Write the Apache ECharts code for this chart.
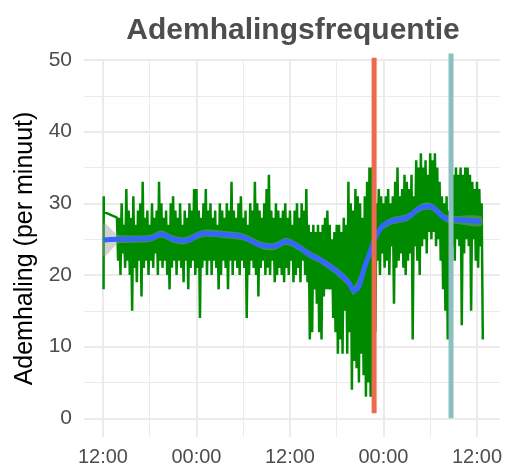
<!DOCTYPE html>
<html>
<head>
<meta charset="utf-8">
<script src="https://cdn.jsdelivr.net/npm/echarts@6/dist/echarts.min.js"></script>
<style>
  html, body { margin: 0; padding: 0; background: #fff; }
  #main { width: 505px; height: 467px; }
</style>
</head>
<body>
<div id="main"></div>
<script>
// tijd in uren vanaf dag 1 00:00
var xTicks = [12, 24, 36, 48, 60];
var xTickLabels = ['12:00', '00:00', '12:00', '00:00', '12:00'];
var xMinor = [18, 30, 42, 54];
var yTicks = [0, 10, 20, 30, 40, 50];
var yMinor = [5, 15, 25, 35, 45];

// eerste losse metingen
var startHours = [12.08, 12.1, 12.12];
var startValues = [18, 31, 28.8];

// daarna elke 0.3 uur een piek (hoog) en een dal (laag), vanaf 13.8 uur
var sampleStart = 13.8;
var sampleStep = 0.3;
var greenHigh = [
  28, 28, 30, 27, 32, 29, 28, 31, 27, 29,
  30, 33, 28, 29, 27, 30, 28, 29, 33, 30,
  28, 29, 27, 30, 31, 29, 28, 30, 27, 29,
  28, 30, 29, 32, 32, 29, 28, 30, 32, 29,
  30, 28, 29, 27, 30, 29, 28, 30, 29, 33,
  29, 28, 30, 31, 28, 29, 27, 30, 29, 33,
  30, 29, 28, 30, 32, 34, 29, 28, 30, 29,
  28, 29, 30, 28, 29, 27, 29, 30, 28, 30,
  29, 32, 27, 26, 27, 26, 27, 26, 27, 28,
  29, 27, 25, 26, 27, 27, 26, 28, 27, 33,
  30, 29, 32, 31, 30, 28, 31, 33, 35, 35,
  31, 30, 32, 31, 30, 31, 32, 30, 31, 33,
  35, 31, 32, 34, 33, 32, 34, 31, 36, 35,
  37, 35, 36, 34, 37, 36, 37, 35, 33, 31,
  30, 31, 29, 30, 34, 35, 34, 35, 34, 35,
  35, 34, 33, 32, 33, 32, 30
];
var greenLow = [
  22, 20, 23, 21, 22, 20, 15, 21, 19, 22,
  17, 21, 22, 20, 22, 21, 23, 20, 22, 21,
  22, 20, 18, 21, 22, 20, 22, 21, 19, 22,
  18, 21, 22, 20, 21, 14, 21, 22, 20, 22,
  20, 22, 21, 18, 20, 22, 21, 18, 22, 20,
  22, 21, 20, 22, 21, 14, 20, 22, 21, 20,
  17, 21, 22, 20, 21, 20, 22, 19, 20, 21,
  20, 19, 21, 20, 22, 19, 20, 21, 19, 22,
  20, 19, 11, 12, 18, 16, 12, 11, 17, 18,
  18, 18, 14, 12, 9, 11, 9, 15, 9, 12,
  4, 8, 7, 5, 9, 6, 3, 5, 3, 3,
  12, 22, 20, 23, 21, 22, 20, 24, 16, 21,
  22, 23, 21, 20, 22, 23, 11, 24, 22, 20,
  24, 25, 23, 26, 25, 26, 24, 25, 22, 18,
  15, 11, 20, 24, 22, 25, 24, 13, 23, 25,
  24, 15, 25, 22, 21, 24, 11
];

// gladde trendlijn met betrouwbaarheidsband
var trendHours = [12.1, 13.8, 15, 18, 19.5, 21, 22.5, 25, 28, 30, 32.5, 34, 35.5, 37, 38.6, 39.9, 42, 43.5, 44.2, 45.9, 47.5, 49, 51, 52.8, 53.9, 54.5, 56, 57.3, 60.5];
var trendValues = [24.9, 25.0, 25.0, 25.1, 25.7, 25.0, 24.8, 25.8, 25.6, 25.3, 24.1, 24.0, 24.7, 24.0, 22.8, 22.1, 20.5, 19.0, 17.8, 22.1, 26.3, 27.5, 28.0, 29.4, 29.6, 29.3, 27.9, 27.7, 27.5];
var trendBand = [2.3, 0.7, 0.55, 0.5, 0.5, 0.5, 0.5, 0.5, 0.5, 0.5, 0.5, 0.5, 0.5, 0.5, 0.5, 0.5, 0.55, 0.6, 0.6, 0.55, 0.5, 0.5, 0.5, 0.5, 0.5, 0.5, 0.5, 0.55, 0.7];

// verticale markeringen
var redLine = { hour: 46.8, from: 0.7, to: 50.3 };
var tealLine = { hour: 56.67, from: 0, to: 50.9 };

var greenData = [];
for (var i = 0; i < startHours.length; i++) greenData.push([startHours[i], startValues[i]]);
for (var j = 0; j < greenHigh.length; j++) {
  greenData.push([sampleStart + j * sampleStep, greenHigh[j]]);
  greenData.push([sampleStart + j * sampleStep + sampleStep / 2, greenLow[j]]);
}
var trendData = trendHours.map(function (h, k) { return [h, trendValues[k]]; });
var bandData = trendHours.map(function (h, k) { return [h, trendValues[k] - trendBand[k], trendValues[k] + trendBand[k]]; });

var myChart = echarts.init(document.getElementById('main'));

var xMin = 9.57, xMax = 62.94;
var option = {
  animation: false,
  title: {
    text: 'Ademhalingsfrequentie',
    left: 288,
    textAlign: 'center',
    top: 11,
    textStyle: { fontFamily: 'Liberation Sans', fontWeight: 'bold', fontSize: 30, color: '#4d4d4d' }
  },
  grid: { left: 84, right: 4, top: 60, bottom: 29 },
  xAxis: [{
    type: 'value', min: xMin, max: xMax,
    axisLine: { show: false },
    axisTick: { show: false, customValues: xTicks },
    axisLabel: {
      customValues: xTicks, margin: 10,
      fontFamily: 'Liberation Sans', fontSize: 20, color: '#4d4d4d',
      formatter: function (v) { return xTickLabels[xTicks.indexOf(v)]; }
    },
    splitLine: { show: true, lineStyle: { color: '#ebebeb', width: 2 } }
  }, {
    type: 'value', min: xMin, max: xMax, position: 'bottom',
    axisLine: { show: false },
    axisTick: { show: false, customValues: xMinor },
    axisLabel: { show: false, customValues: xMinor },
    splitLine: { show: true, lineStyle: { color: '#ebebeb', width: 1 } }
  }],
  yAxis: [{
    type: 'value', min: -2.6, max: 50,
    name: 'Ademhaling (per minuut)', nameLocation: 'middle', nameGap: 42,
    nameTextStyle: { fontFamily: 'Liberation Sans', fontSize: 25, color: '#000' },
    axisLine: { show: false },
    axisTick: { show: false, customValues: yTicks },
    axisLabel: { customValues: yTicks, margin: 12, fontFamily: 'Liberation Sans', fontSize: 21, color: '#4d4d4d' },
    splitLine: { show: true, lineStyle: { color: '#ebebeb', width: 2 } }
  }, {
    type: 'value', min: -2.6, max: 50, position: 'left',
    axisLine: { show: false },
    axisTick: { show: false, customValues: yMinor },
    axisLabel: { show: false, customValues: yMinor },
    splitLine: { show: true, lineStyle: { color: '#ebebeb', width: 1 } }
  }],
  series: [{
    type: 'line', data: greenData, showSymbol: false,
    lineStyle: { color: '#008a00', width: 2.5 }, z: 2
  }, {
    type: 'custom', data: bandData, z: 3,
    renderItem: function (params, api) {
      if (params.dataIndex !== 0) return;
      var top = [], bottom = [];
      for (var k = 0; k < bandData.length; k++) {
        top.push(api.coord([bandData[k][0], bandData[k][2]]));
        bottom.unshift(api.coord([bandData[k][0], bandData[k][1]]));
      }
      return {
        type: 'polygon',
        shape: { points: top.concat(bottom), smooth: 0.3 },
        style: { fill: 'rgba(153,153,153,0.45)' }
      };
    }
  }, {
    type: 'line', data: trendData, smooth: true, showSymbol: false,
    lineStyle: { color: '#3366ff', width: 5 }, z: 4
  }, {
    type: 'line', data: [[redLine.hour, redLine.from], [redLine.hour, redLine.to]],
    showSymbol: false, clip: false,
    lineStyle: { color: '#ee6a4f', width: 5 }, z: 5
  }, {
    type: 'line', data: [[tealLine.hour, tealLine.from], [tealLine.hour, tealLine.to]],
    showSymbol: false, clip: false,
    lineStyle: { color: '#8cbfbf', width: 5 }, z: 5
  }]
};
myChart.setOption(option);
</script>
</body>
</html>
